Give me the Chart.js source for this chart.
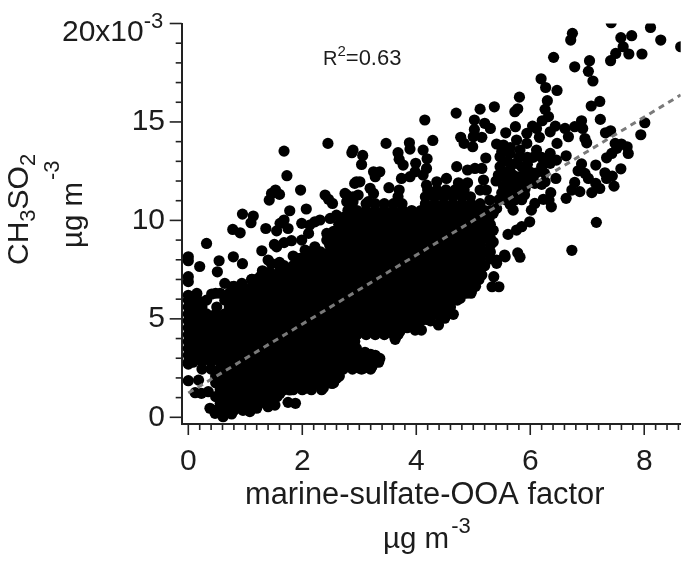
<!DOCTYPE html>
<html><head><meta charset="utf-8">
<style>html,body{margin:0;padding:0;background:#fff}#w{width:685px;height:562px;position:relative}</style>
<script src="https://cdn.jsdelivr.net/npm/chart.js@4/dist/chart.umd.js"></script>
</head><body><div id="w"><canvas id="c" width="685" height="562"></canvas></div>
<script>
const xTickLabels = [0, 2, 4, 6, 8];
const yTickLabels = [0, 5, 10, 15];
const fitX = [0, 8.64];
const fitY = [1.23, 16.37];

const upperRightPoints = [[7.42,20.04],[6.74,19.5],[6.71,19.16],[8.11,19.8],[7.78,19.38],[7.59,19.28],[8.29,19.16],[8.64,18.82],[7.63,18.82],[7.73,18.45],[7.96,18.45],[7.5,18.48],[7.41,18.11],[6.41,18.28],[6.78,17.8],[7.04,18.11],[7.02,17.57],[7.1,17.08],[6.19,17.19],[6.27,16.75],[6.47,16.6],[5.81,16.26],[6.3,16.08],[7.22,16.04],[7.07,15.81],[5.78,15.67],[5.73,15.52],[5.37,15.77],[5.12,15.65],[4.7,15.45],[4.15,15.1],[6.26,15.64],[6.32,15.27],[6.21,15.06],[6.04,14.79],[7.23,15.13],[6.9,15.06],[8.01,14.96],[6.92,14.67],[6.78,14.76],[7.94,14.35],[7.41,14.55],[7.32,14.45],[6.96,14.16],[6.99,13.94],[6.44,14.79],[6.35,14.5],[6.61,14.67],[6.67,14.25],[5.02,15.1],[5.02,14.62],[5.2,14.93],[5.3,14.67],[5,14.25],[5.15,14.22],[4.78,14.22],[4.84,13.91],[4.99,13.74],[4.29,14.06],[3.88,13.94],[3.89,13.62],[3.47,13.91],[2.89,13.57],[2.87,13.44],[3.06,13.3],[3.04,12.84],[3.68,13.44],[4.12,13.57],[3.7,13.1],[3.77,12.81],[4.19,13.13],[3.99,12.9],[4.18,12.64],[4.12,12.3],[3.98,12.47],[3.25,12.47],[3.36,12.47],[3.28,12.22],[3.01,11.96],[2.92,11.88],[3.52,11.66],[3.74,12.13],[3.89,12.22],[3.19,11.63],[3.25,11.37],[2.78,11.29],[2.98,11.29],[3.7,11.54],[3.68,11.2],[3.16,10.95],[2.89,10.95]];

const rightClusterPoints = [[5.57,14.45],[5.74,14.76],[5.94,14.42],[6.11,14.67],[6.16,14.22],[5.41,13.88],[5.53,13.83],[5.76,14.08],[5.94,13.91],[6.47,13.91],[5.22,13.17],[4.71,12.73],[4.9,12.56],[5.03,12.64],[5.15,12.64],[4.74,11.91],[4.9,11.91],[4.53,12.13],[4.36,11.96],[4.18,11.79],[5.18,12.05],[5.23,11.54],[5.47,13.23],[5.64,13.4],[5.82,13.57],[6.11,13.57],[6.35,13.4],[6.63,13.28],[6.46,13.06],[6.2,12.73],[6.35,12.9],[5.47,12.73],[5.64,12.56],[5.85,12.73],[5.99,12.47],[5.44,12.3],[5.58,12.05],[5.82,12.22],[5.94,12.05],[5.53,11.71],[5.76,11.71],[5.64,11.37],[6.26,11.96],[6.2,11.83],[6.45,12.13],[6.08,11.88],[5.91,11.62],[5.73,11.03],[5.7,10.52],[5.58,11.03],[6.36,11.41],[6.33,11.03],[6.23,11.07],[6.37,10.69],[6.08,10.86],[6.02,10.52],[5.99,9.93],[5.85,9.68],[5.76,9.51],[5.61,9.29],[5.78,8.35],[5.82,8.13],[6.73,8.48],[7.16,9.9],[7.49,13.91],[7.6,13.88],[7.7,13.74],[7.72,13.4],[7.52,13.66],[7.43,13.4],[7.34,13.18],[7.15,12.81],[7.59,12.62],[7.31,12.42],[7.44,12.25],[7.34,12.13],[7.47,11.74],[6.9,12.87],[6.84,12.52],[6.96,12.39],[7.02,12.13],[6.78,11.93],[7.15,11.88],[7.22,11.62],[7.08,11.41],[6.87,11.46],[6.73,11.54],[6.63,11.12],[5.41,10.61],[5.29,11.03],[5.12,11.54],[5.35,10.36],[5.35,9.5],[5.35,8.9],[5.56,8.15],[5.41,7.99],[5.5,13.5],[5.65,13.7],[5.8,13.2],[5.95,13.2],[6.05,13.2],[5.6,13],[5.75,12.9],[5.95,12.85],[6.1,12.4],[5.55,12.4],[5.7,12.3],[5.9,12.3],[5.4,12],[5.7,12],[5.85,11.9],[5.6,11.7],[5.9,11.3],[5.75,11.35],[5.5,11.4],[5.45,11.05],[5.85,11.05],[5.65,10.8],[6.05,12.1],[6.25,12.4],[6.3,13.1],[6.2,13.2]];

const upperLeftPoints = [[1.68,13.52],[2.45,13.91],[1.73,12.27],[1.97,11.54],[1.53,11.54],[1.46,11.37],[1.6,11.32],[1.42,11.03],[2.4,11.29],[2.46,11.07],[2.53,10.86],[1.78,10.49],[2.07,10.58],[0.95,10.32],[1.14,10.22],[1.1,9.88],[0.78,9.54],[0.91,9.37],[1.36,9.59],[1.55,9.47],[1.61,9.85],[1.68,10.02],[1.75,9.59],[1.99,9.85],[2.22,9.93],[2.13,9.76],[2.31,10.02],[0.32,8.83],[0,8.15],[0,7.95],[0,7.14],[0,6.89],[0.2,7.66],[0.54,7.95],[0.51,7.39],[0.79,8.15],[0.95,7.8],[1.29,8.46],[1.51,8.78],[1.55,8.66],[1.68,8.87],[1.81,8.97],[1.4,7.99],[1.46,7.81],[1.6,7.87],[1.84,8.19],[1.96,8.07],[2.05,8.49],[2.22,8.66],[2.37,8.24],[2.11,9.34],[1.99,9],[1.3,7.44],[0.64,6.8],[0.76,6.63],[0.94,6.8],[1.11,7],[1.26,7.14],[0.41,6.26],[0.15,6.29],[0,6.2],[2.95,11.96],[2.75,11.37],[2.89,11.2],[2.78,10.95],[2.49,10.1],[2.6,10.27],[2.84,10.53],[2.95,10.36],[2.43,9.34],[2.43,9],[2.6,9.17]];

const lowerEdgePoints = [[0,1.86],[0.18,1.89],[0.12,1.25],[0.23,1.22],[0.35,1.3],[0.38,0.46],[0.47,0.2],[0.61,0.03],[0.76,0.17],[1.08,0.29],[1.2,0.46],[1.4,0.54],[1.52,0.62],[1.75,0.76],[1.88,0.71],[1.61,1.22],[2.05,1.47],[2.37,1.5],[2.25,1.72],[2.6,1.98],[2.52,1.72],[3.01,2.49],[3.19,2.49],[1.78,1.39],[0.56,0.88],[0.97,0.54],[3.36,2.99],[3.22,2.57],[3.07,2.49],[2.92,2.54],[2.78,2.74],[2.63,2.06],[3.63,3.96],[3.71,4.35],[3.98,4.43],[4.09,4.43],[4.18,4.97],[4.39,4.69],[4.42,5.11],[4.5,5.03],[4.65,5.23],[4.77,6.04],[4.97,6.41],[5.03,7.23],[5.15,7.23],[5.36,7.14],[5.33,6.63],[5.45,6.63],[5.41,7.82],[5.55,8.24],[0,2.7],[3.1,3.3],[3.2,3.2]];

const rowY = [0.35,0.7,1.05,1.4,1.75,2.1,2.45,2.8,3.15,3.5,3.85,4.2,4.55,4.9,5.25,5.6,5.95,6.3,6.65,7,7.35,7.7,8.05,8.4,8.75,9.1,9.45,9.8,10.15,10.5,10.85,11.2,11.55];
const rowX = [
[0.48,0.64,0.8,0.96],
[0.56,0.72,0.88,1.04,1.2,1.36],
[0.48,0.64,0.8,0.96,1.12,1.28,1.44,1.56],
[0.56,0.72,0.88,1.04,1.2,1.36,1.52,1.68,1.84,2,2.16,2.34],
[0.48,0.64,0.8,0.96,1.12,1.28,1.44,1.6,1.76,1.92,2.08,2.24,2.4,2.55],
[0.48,0.56,0.72,0.88,1.04,1.2,1.36,1.52,1.68,1.84,2,2.16,2.32,2.48,2.65],
[0.24,0.4,0.56,0.64,0.8,0.96,1.12,1.28,1.44,1.6,1.76,1.92,2.08,2.24,2.4,2.56,2.72,2.88,3.04,3.2],
[0,0.08,0.24,0.4,0.56,0.72,0.88,1.04,1.2,1.36,1.52,1.68,1.84,2,2.16,2.32,2.48,2.64,2.8,2.96,3.12,3.28,3.34],
[0,0.16,0.32,0.48,0.64,0.8,0.96,1.12,1.28,1.44,1.6,1.76,1.92,2.08,2.24,2.4,2.56,2.72,2.88,3.04,3.2,3.28],
[0,0.08,0.24,0.4,0.56,0.72,0.88,1.04,1.2,1.36,1.52,1.68,1.84,2,2.16,2.32,2.48,2.64,2.8,2.95],
[0,0.16,0.32,0.48,0.64,0.8,0.96,1.12,1.28,1.44,1.6,1.76,1.92,2.08,2.24,2.4,2.56,2.72,2.88,2.92],
[0,0.08,0.24,0.4,0.56,0.72,0.88,1.04,1.2,1.36,1.52,1.68,1.84,2,2.16,2.32,2.48,2.64,2.8,2.96,3.12,3.28,3.44,3.6,3.68],
[0,0.16,0.32,0.48,0.64,0.8,0.96,1.12,1.28,1.44,1.6,1.76,1.92,2.08,2.24,2.4,2.56,2.72,2.88,3.04,3.2,3.36,3.52,3.68,3.84,4],
[0,0.08,0.24,0.4,0.56,0.72,0.88,1.04,1.2,1.36,1.52,1.68,1.84,2,2.16,2.32,2.48,2.64,2.8,2.96,3.12,3.28,3.44,3.6,3.76,3.92,4.08,4.25],
[0,0.16,0.32,0.48,0.64,0.8,0.96,1.12,1.28,1.44,1.6,1.76,1.92,2.08,2.24,2.4,2.56,2.72,2.88,3.04,3.2,3.36,3.52,3.68,3.84,4,4.16,4.32,4.48,4.55],
[0,0.08,0.24,0.5,0.72,0.88,1.04,1.2,1.36,1.52,1.68,1.84,2,2.16,2.32,2.48,2.64,2.8,2.96,3.12,3.28,3.44,3.6,3.76,3.92,4.08,4.24,4.4,4.56,4.6],
[0,0.16,0.32,0.64,0.8,0.96,1.12,1.28,1.44,1.6,1.76,1.92,2.08,2.24,2.4,2.56,2.72,2.88,3.04,3.2,3.36,3.52,3.68,3.84,4,4.16,4.32,4.48,4.64,4.72],
[0.48,0.56,0.72,0.88,1.04,1.2,1.36,1.52,1.68,1.84,2,2.16,2.32,2.48,2.64,2.8,2.96,3.12,3.28,3.44,3.6,3.76,3.92,4.08,4.24,4.4,4.56,4.72,4.88,4.96],
[0.8,0.96,1.12,1.28,1.44,1.6,1.76,1.92,2.08,2.24,2.4,2.56,2.72,2.88,3.04,3.2,3.36,3.52,3.68,3.84,4,4.16,4.32,4.48,4.64,4.8,4.96,5.04],
[1.12,1.2,1.36,1.52,1.68,1.84,2,2.16,2.32,2.48,2.64,2.8,2.96,3.12,3.28,3.44,3.6,3.76,3.92,4.08,4.24,4.4,4.56,4.72,4.88,5.04,5.1],
[1.4,1.44,1.6,1.76,1.92,2.08,2.24,2.4,2.56,2.72,2.88,3.04,3.2,3.36,3.52,3.68,3.84,4,4.16,4.32,4.48,4.64,4.8,4.96,5.12],
[1.6,1.68,1.84,2,2.16,2.32,2.48,2.64,2.8,2.96,3.12,3.28,3.44,3.6,3.76,3.92,4.08,4.24,4.4,4.56,4.72,4.88,5.04,5.2],
[1.95,2.08,2.24,2.4,2.56,2.72,2.88,3.04,3.2,3.36,3.52,3.68,3.84,4,4.16,4.32,4.48,4.64,4.8,4.96,5.12,5.3],
[2.1,2.16,2.32,2.48,2.64,2.8,2.96,3.12,3.28,3.44,3.6,3.76,3.92,4.08,4.24,4.4,4.56,4.72,4.88,5.04,5.2,5.3],
[2.48,2.56,2.72,2.88,3.04,3.2,3.36,3.52,3.68,3.84,4,4.16,4.32,4.48,4.64,4.8,4.96,5.12,5.3],
[2.48,2.64,2.8,2.96,3.12,3.28,3.44,3.6,3.76,3.92,4.08,4.24,4.4,4.56,4.72,4.88,5.04,5.2,5.3],
[2.55,2.72,2.88,3.04,3.2,3.36,3.52,3.68,3.84,4,4.16,4.32,4.48,4.64,4.8,4.96,5.12,5.28],
[2.64,2.8,2.96,3.12,3.28,3.44,3.6,3.76,3.92,4.08,4.24,4.4,4.56,4.72,4.88,5.04,5.2,5.3],
[2.72,2.88,3.04,3.2,3.36,3.52,3.68,3.84,4,4.16,4.32,4.48,4.64,4.8,4.96,5.12,5.28],
[2.8,2.96,3.12,3.28,3.44,3.6,3.76,3.92,4.08,4.24,4.4,4.56,4.72,4.88,5.04,5.2,5.3],
[3.12,3.28,3.44,3.6,3.75,4.16,4.32,4.48,4.64,4.8,4.96,5.12],
[4.16,4.32,4.48,4.64,4.8,4.95],
[4.2,4.36,4.52,4.68,4.84]
];

const densePoints = [];
rowY.forEach((y, i) => rowX[i].forEach(x => densePoints.push({x, y})));
const toXY = list => list.map(p => ({x: p[0], y: p[1]}));
const scatterData = [...toXY(upperRightPoints), ...toXY(rightClusterPoints), ...toXY(upperLeftPoints), ...toXY(lowerEdgePoints), ...densePoints];

const FONT = '"Liberation Sans", Arial, sans-serif';
const INK = '#1c1c1c';
function runs(ctx, x, y, angle, parts) {
  ctx.save();
  ctx.translate(x, y);
  ctx.rotate(angle);
  ctx.textAlign = 'left';
  ctx.textBaseline = 'alphabetic';
  ctx.fillStyle = INK;
  let cx = 0;
  parts.forEach(p => {
    ctx.font = p[1] + 'px ' + FONT;
    ctx.fillText(p[0], cx + (p[3] || 0), p[2]);
    cx += ctx.measureText(p[0]).width + (p[3] || 0);
  });
  ctx.restore();
}
const ticksAndText = {
  id: 'ticksAndText',
  afterDraw(chart) {
    const ctx = chart.ctx, sx = chart.scales.x, sy = chart.scales.y, a = chart.chartArea;
    ctx.save();
    ctx.strokeStyle = '#222';
    ctx.lineWidth = 1.6;
    sx.ticks.forEach(t => {
      const px = sx.getPixelForValue(t.value);
      const major = xTickLabels.some(v => Math.abs(v - t.value) < 0.01);
      ctx.beginPath(); ctx.moveTo(px, a.bottom); ctx.lineTo(px, a.bottom + (major ? 11 : 6)); ctx.stroke();
    });
    sy.ticks.forEach(t => {
      const py = sy.getPixelForValue(t.value);
      const major = Math.abs(t.value % 5) < 0.01;
      ctx.beginPath(); ctx.moveTo(a.left, py); ctx.lineTo(a.left - (major ? 12 : 6), py); ctx.stroke();
    });
    ctx.restore();
    runs(ctx, 62, 41, 0, [['20x10', 30, 0], ['-3', 22, -13, 0]]);
    runs(ctx, 323, 65, 0, [['R', 20, 0], ['2', 15, -9], ['=0.63', 22, 0]]);
    runs(ctx, 245, 504, 0, [['marine-sulfate-OOA factor', 30.8, 0]]);
    runs(ctx, 383, 548, 0, [['\u00b5g m', 29.5, 0], ['-3', 22, -15, 2]]);
    runs(ctx, 28, 265, -Math.PI / 2, [['CH', 30, 0], ['3', 22, 7], ['SO', 30, 0], ['2', 22, 7]]);
    runs(ctx, 82, 248, -Math.PI / 2, [['\u00b5g m', 29.5, 0]]);
    runs(ctx, 59, 180, -Math.PI / 2, [['-3', 22, 0]]);
  }
};
function noScalePadding(s) { s.paddingLeft = s.paddingRight = s.paddingTop = s.paddingBottom = 0; }

new Chart(document.getElementById('c'), {
  type: 'scatter',
  plugins: [ticksAndText],
  data: { datasets: [
    { type: 'line', label: 'fit', order: 0, data: fitX.map((x, i) => ({x, y: fitY[i]})), borderColor: '#7a7a7a', borderWidth: 3, borderDash: [6, 5], pointRadius: 0, fill: false },
    { label: 'points', order: 1, data: scatterData, backgroundColor: '#000', borderWidth: 0, pointRadius: 5.6, pointHoverRadius: 5.6 }
  ]},
  options: {
    responsive: false,
    animation: false,
    events: [],
    layout: { autoPadding: false, padding: { top: 23.5, right: 4.3, left: 0, bottom: 0 } },
    plugins: { legend: { display: false }, tooltip: { enabled: false } },
    scales: {
      x: {
        type: 'linear', min: -0.116, max: 8.64,
        afterFit(s) { s.height = 138; noScalePadding(s); },
        grid: { display: false, drawTicks: false },
        border: { display: true, color: '#222', width: 2 },
        ticks: { stepSize: 0.2, includeBounds: false, autoSkip: false, maxRotation: 0, padding: 20, color: INK,
          font: { family: 'Liberation Sans', size: 30 },
          callback: v => xTickLabels.some(t => Math.abs(t - v) < 0.01) ? String(Math.round(v)) : '' }
      },
      y: {
        type: 'linear', min: -0.34, max: 20,
        afterFit(s) { s.width = 181.7; noScalePadding(s); },
        grid: { display: false, drawTicks: false },
        border: { display: true, color: '#222', width: 2 },
        ticks: { stepSize: 1, includeBounds: false, autoSkip: false, padding: 16.7, color: INK,
          font: { family: 'Liberation Sans', size: 30 },
          callback: v => yTickLabels.includes(Math.round(v)) && Math.abs(v - Math.round(v)) < 0.01 ? String(Math.round(v)) : '' }
      }
    }
  }
});
</script></body></html>
